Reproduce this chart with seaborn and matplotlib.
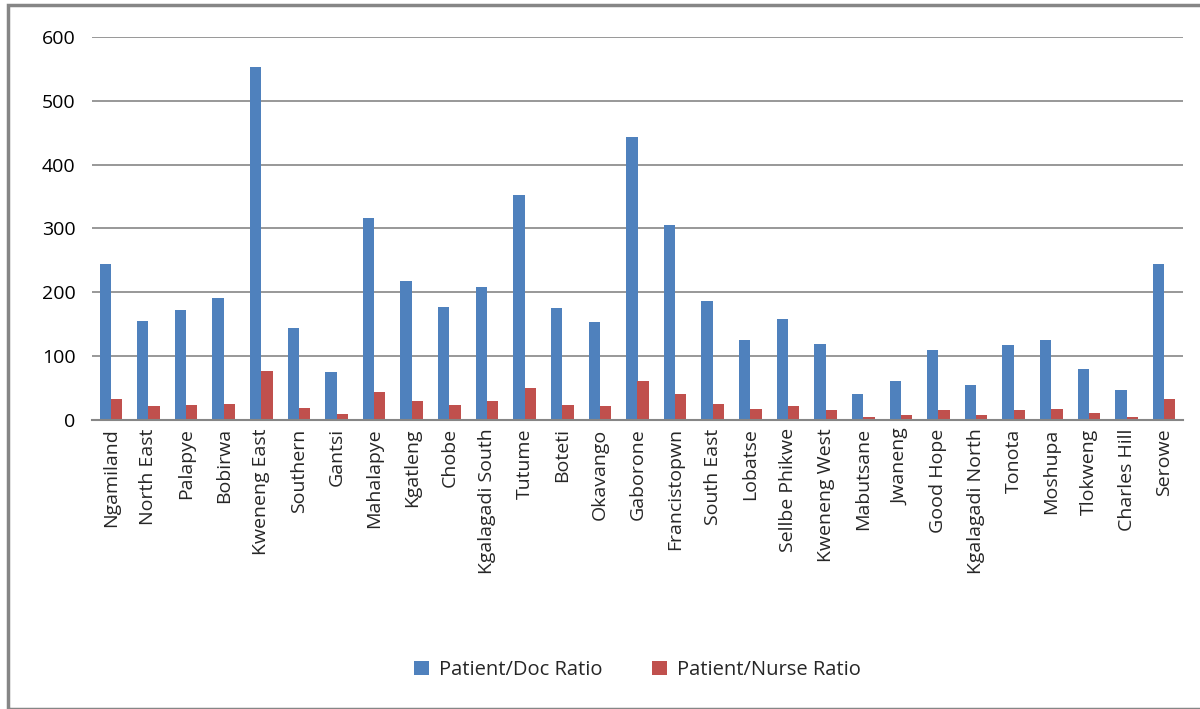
import matplotlib
matplotlib.use("Agg")
import matplotlib.pyplot as plt
import seaborn as sns
import pandas as pd
from matplotlib.patches import Rectangle

districts = ["Ngamiland", "North East", "Palapye", "Bobirwa", "Kweneng East", "Southern",
             "Gantsi", "Mahalapye", "Kgatleng", "Chobe", "Kgalagadi South", "Tutume",
             "Boteti", "Okavango", "Gaborone", "Francistopwn", "South East", "Lobatse",
             "Sellbe Phikwe", "Kweneng West", "Mabutsane", "Jwaneng", "Good Hope",
             "Kgalagadi North", "Tonota", "Moshupa", "Tlokweng", "Charles Hill", "Serowe"]
doc_ratio = [245, 155, 173, 191, 553, 144, 75, 316, 217, 177, 209, 353, 175, 153, 444,
             305, 186, 125, 159, 119, 41, 61, 109, 55, 117, 125, 80, 47, 244]
nurse_ratio = [33, 22, 23, 25, 77, 19, 9, 44, 30, 23, 30, 50, 23, 22, 61,
               41, 25, 17, 22, 16, 5, 8, 16, 8, 16, 17, 11, 5, 33]
series_names = ["Patient/Doc Ratio", "Patient/Nurse Ratio"]
yticks = [0, 100, 200, 300, 400, 500, 600]

df = pd.DataFrame({
    "District": districts * 2,
    "Series": [series_names[0]] * len(districts) + [series_names[1]] * len(districts),
    "Value": doc_ratio + nurse_ratio,
})

sns.set_style("white")
plt.rcParams["font.family"] = ["Open Sans", "DejaVu Sans"]

fig = plt.figure(figsize=(12, 7.09), dpi=100)
ax = fig.add_axes([92 / 1200, 1 - 420 / 709, (1183 - 92) / 1200, (420 - 37) / 709])

sns.barplot(data=df, x="District", y="Value", hue="Series", order=districts,
            hue_order=series_names, palette=["#4F81BD", "#C0504D"], width=0.6,
            saturation=1, linewidth=0, ax=ax, legend=True)

ax.set_ylim(0, 600)
ax.set_xlim(-0.5, len(districts) - 0.5)
ax.set_yticks(yticks)
ax.set_yticklabels([str(t) for t in yticks], fontsize=14)
ax.yaxis.grid(True, color="#868686", linewidth=1.2)
ax.set_axisbelow(True)
ax.set_xlabel("")
ax.set_ylabel("")
for s in ["top", "right", "left"]:
    ax.spines[s].set_visible(False)
ax.spines["bottom"].set_color("#868686")
ax.spines["bottom"].set_linewidth(1.5)
ax.tick_params(axis="y", length=0, pad=12, colors="black")
ax.set_xticks(range(len(districts)))
ax.set_xticklabels(districts, rotation=90, fontsize=14)
ax.tick_params(axis="x", length=0, pad=6)
# minor ticks between categories
ax.set_xticks([i + 0.5 for i in range(-1, len(districts))], minor=True)
ax.tick_params(axis="x", which="minor", length=7, color="#868686", width=1, direction="out")

leg = ax.legend(loc="upper center", bbox_to_anchor=(0.5, -0.58), ncol=2,
                frameon=False, fontsize=14.5, handlelength=0.7, handleheight=0.7,
                columnspacing=2.5, handletextpad=0.5)

fig.patches.append(Rectangle((8 / 1200, 0), 1.0, 1 - 5 / 709, transform=fig.transFigure,
                             fill=False, edgecolor="#868686", linewidth=2.5))

fig.savefig("out.png", dpi=100)
